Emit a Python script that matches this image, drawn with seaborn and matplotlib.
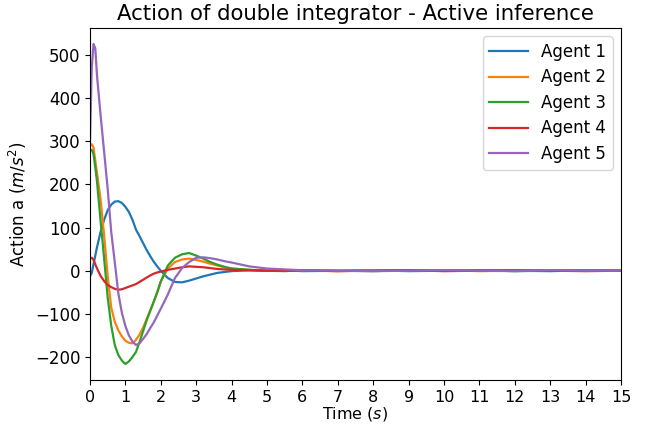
import matplotlib
matplotlib.use('Agg')
import matplotlib.pyplot as plt
import seaborn as sns
import numpy as np
import pandas as pd

# Tempo (s) e ação de cada agente
time = [0, 0.05, 0.1, 0.15, 0.2, 0.3, 0.4, 0.5, 0.6, 0.7, 0.8, 0.9, 1.0,
        1.1, 1.2, 1.3, 1.4, 1.5, 1.6, 1.7, 1.8, 1.9, 2.0, 2.2, 2.4, 2.6,
        2.8, 3.0, 3.2, 3.4, 3.6, 3.8, 4.0, 4.5, 5.0, 5.5, 6, 7, 8, 9, 10,
        11, 12, 13, 14, 15]

agent1 = [-13, -5, 15, 35, 55, 90, 118, 140, 153, 160, 161, 157, 148,
          136, 118, 95, 80, 64, 48, 34, 21, 10, 0, -17, -26, -27,
          -23, -18, -13, -9, -5, -3, -1, 1, 0, 1, -1, 0, 1, -1, 0,
          1, 0, -1, 1, 0]
agent2 = [290, 293, 285, 255, 225, 165, 82, -12, -85, -118, -138, -152, -162,
          -167, -168, -160, -148, -132, -112, -93, -72, -50, -25, 5, 20, 26,
          28, 25, 21, 16, 12, 8, 5, 2, 0, 1, 0, -1, 1, 0, 1,
          -1, 0, 1, 0, 0]
agent3 = [278, 280, 270, 240, 205, 115, 28, -62, -127, -172, -195, -208, -216,
          -210, -200, -188, -165, -140, -115, -93, -72, -50, -25, 12, 30, 38,
          41, 35, 28, 20, 14, 9, 5, 2, 0, -1, 1, 0, -1, 1, 0,
          1, -1, 0, 1, 0]
agent4 = [28, 30, 25, 15, 5, -12, -24, -33, -38, -42, -44, -43, -40,
          -37, -34, -31, -26, -21, -16, -11, -7, -4, -2, 2, 5, 8,
          10, 9, 8, 6, 4, 3, 2, 1, 0, 0, 1, -1, 0, 1, -1,
          0, 1, 0, -1, 0]
agent5 = [300, 470, 525, 515, 450, 360, 275, 190, 90, 20, -52, -97, -128,
          -150, -164, -172, -168, -158, -147, -133, -120, -104, -88, -55, -17, 6,
          20, 30, 31, 29, 26, 22, 19, 10, 5, 3, 1, 0, -1, 0, 1,
          0, -1, 1, 0, 0]

agents = ['Agent 1', 'Agent 2', 'Agent 3', 'Agent 4', 'Agent 5']
series = [agent1, agent2, agent3, agent4, agent5]

df = pd.concat([pd.DataFrame({'t': time, 'a': s, 'agent': name})
                for name, s in zip(agents, series)], ignore_index=True)

fig = plt.figure(figsize=(6.45, 4.26), dpi=100)
ax = fig.add_axes([0.1395, 0.108, 0.8233, 0.8263])

sns.lineplot(data=df, x='t', y='a', hue='agent', palette='tab10',
             linewidth=1.6, ax=ax)

ax.set_title('Action of double integrator - Active inference', fontsize=15.3)
ax.set_xlabel('Time ($s$)', fontsize=11.5, labelpad=0)
ax.set_ylabel('Action a ($m/s^2$)', fontsize=12)

ax.set_xlim(0, 15)
ax.set_xticks(np.arange(0, 16, 1))
plt.xticks(fontsize=11.5)
plt.yticks(fontsize=12)

ax.legend(loc='upper right', fontsize=12, handlelength=2.3,
          labelspacing=0.45)

plt.savefig('out.png', dpi=100)
plt.close()
